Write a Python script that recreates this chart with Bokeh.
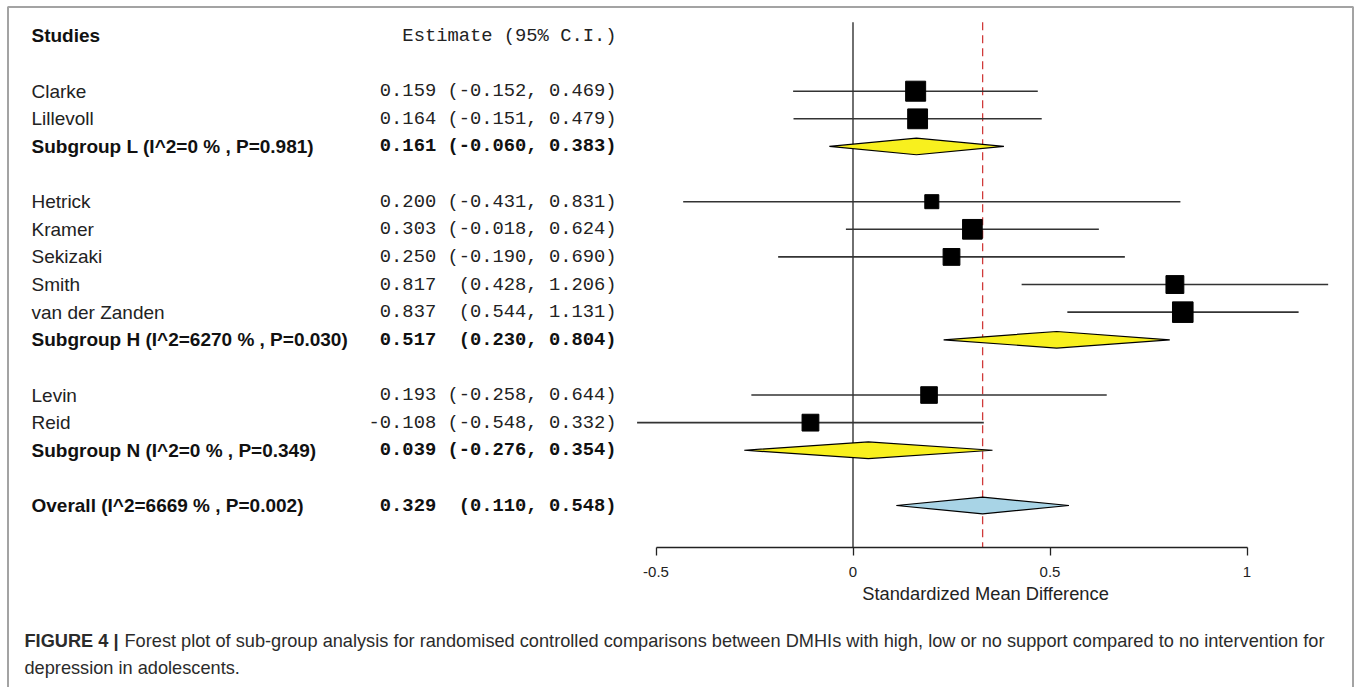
import numpy as np
from bokeh.plotting import figure
from bokeh.models import Range1d, LinearAxis, FixedTicker, ColumnDataSource
from bokeh.core.properties import value
from bokeh.embed import file_html
from bokeh.resources import INLINE

# ---------------- data ----------------
studies = ["Clarke", "Lillevoll", "Hetrick", "Kramer", "Sekizaki", "Smith",
           "van der Zanden", "Levin", "Reid"]
study_group = ["L", "L", "H", "H", "H", "H", "H", "N", "N"]
study_est = [0.159, 0.164, 0.200, 0.303, 0.250, 0.817, 0.837, 0.193, -0.108]
study_lo = [-0.152, -0.151, -0.431, -0.018, -0.190, 0.428, 0.544, -0.258, -0.548]
study_hi = [0.469, 0.479, 0.831, 0.624, 0.690, 1.206, 1.131, 0.644, 0.332]

group_keys = ["L", "H", "N"]
group_labels = ["Subgroup L (I^2=0 % , P=0.981)",
                "Subgroup H (I^2=6270 % , P=0.030)",
                "Subgroup N (I^2=0 % , P=0.349)"]
group_est = [0.161, 0.517, 0.039]
group_lo = [-0.060, 0.230, -0.276]
group_hi = [0.383, 0.804, 0.354]

overall_label = "Overall (I^2=6669 % , P=0.002)"
overall_est = 0.329
overall_lo = 0.110
overall_hi = 0.548

axis_ticks = [-0.5, 0, 0.5, 1]
axis_tick_labels = ["-0.5", "0", "0.5", "1"]
x_title = "Standardized Mean Difference"
header_left = "Studies"
header_right = "Estimate (95% C.I.)"
caption_bold = "FIGURE 4 |"
caption_line1 = ("Forest plot of sub-group analysis for randomised controlled comparisons "
                 "between DMHIs with high, low or no support compared to no intervention for")
caption_line2 = "depression in adolescents."

# ---------------- layout ----------------
W, H = 1357, 687
PX_PER_X = 394.0      # pixels per unit of effect size
X0_PX = 852.5         # pixel of x = 0
ROW_PX = 27.62        # pixels per row
ROW0_PX = 35.46       # pixel of row 0


def fx(px):
    return (px - X0_PX) / PX_PER_X


def fy(py):
    return (py - ROW0_PX) / ROW_PX


NB = "\u00a0"


def fmt(e, lo, hi):
    return f"{e:.3f}{NB}" + f"({lo:.3f},{NB}{hi:.3f})".rjust(15, NB)


# rows
s_rows, g_rows = [], []
r = 2
for g in group_keys:
    for grp in study_group:
        if grp == g:
            s_rows.append(r)
            r += 1
    g_rows.append(r)
    r += 2
o_row = r

se = (np.array(study_hi) - np.array(study_lo)) / 3.92
box = 7.96 / np.sqrt(se)

p = figure(width=W, height=H, output_backend="svg", toolbar_location=None,
           x_range=Range1d(fx(0), fx(W)),
           y_range=Range1d(fy(H), fy(0)),
           x_axis_type=None, y_axis_type=None, min_border=0)
p.outline_line_color = None
p.background_fill_color = "white"
p.border_fill_color = "white"

axis_row = fy(546.7)
top_row = fy(21.7)

# frame border (left, top, right)
bl, br, bt, bb = fx(7.5), fx(1352.5), fy(6.5), fy(720)
p.line(x=[bl, bl, br, br], y=[bb, bt, bt, bb], line_color="#a3a3a3", line_width=2)

# reference lines
p.segment(x0=[0], y0=[top_row], x1=[0], y1=[axis_row], line_color="#222222", line_width=1.3)
p.segment(x0=[overall_est], y0=[top_row], x1=[overall_est], y1=[axis_row],
          line_color="#d03a3a", line_width=1.3, line_dash="8 5")

# study CIs and boxes
ssrc = ColumnDataSource(dict(y=s_rows, est=study_est, lo=study_lo, hi=study_hi, box=box,
                             name=studies,
                             txt=[fmt(e, l, h) for e, l, h in zip(study_est, study_lo, study_hi)]))
p.segment(x0="lo", y0="y", x1="hi", y1="y", source=ssrc, line_color="#333333", line_width=1.6)
p.rect(x="est", y="y", width="box", height="box", width_units="screen", height_units="screen",
       source=ssrc, fill_color="black", line_color="black")

# diamonds
dh = 8.3 / ROW_PX
dx = [[l, e, h, e] for e, l, h in zip(group_est, group_lo, group_hi)]
dy = [[rr, rr - dh, rr, rr + dh] for rr in g_rows]
p.patches(xs=dx, ys=dy, fill_color="#f8f01e", line_color="black", line_width=1.2)
p.patch(x=[overall_lo, overall_est, overall_hi, overall_est],
        y=[o_row, o_row - dh, o_row, o_row + dh],
        fill_color="#a8d4e6", line_color="black", line_width=1.2)

# axis
ax = LinearAxis(fixed_location=axis_row, ticker=FixedTicker(ticks=axis_ticks),
                bounds=(axis_ticks[0], axis_ticks[-1]))
ax.major_label_overrides = {t: l for t, l in zip(axis_ticks, axis_tick_labels)}
ax.axis_line_color = "#222222"
ax.axis_line_width = 1.3
ax.major_tick_line_color = "#222222"
ax.major_tick_line_width = 1.3
ax.major_tick_out = 8
ax.major_tick_in = 0
ax.minor_tick_line_color = None
ax.major_label_text_font = "Liberation Sans"
ax.major_label_text_font_size = "15px"
ax.major_label_text_color = "#222222"
ax.major_label_standoff = 12
p.add_layout(ax, "below")

# texts
LAB_X = fx(31)
EST_X = fx(616)
sans = value("Liberation Sans")
mono = value("Liberation Mono")

p.text(x=[LAB_X], y=[0], text=[header_left], text_font=sans, text_font_size="19px",
       text_font_style="bold", text_baseline="middle", text_align="left", text_color="#111111")
p.text(x=[EST_X], y=[0], text=[header_right.replace(" ", NB)], text_font=mono,
       text_font_size="18.8px", text_baseline="middle", text_align="right", text_color="#222222")

p.text(x=LAB_X, y="y", text="name", source=ssrc, text_font=sans, text_font_size="19px",
       text_baseline="middle", text_align="left", text_color="#222222")
p.text(x=EST_X, y="y", text="txt", source=ssrc, text_font=mono, text_font_size="18.8px",
       text_baseline="middle", text_align="right", text_color="#222222")

b_lab = group_labels + [overall_label]
b_rows = g_rows + [o_row]
b_txt = [fmt(e, l, h) for e, l, h in zip(group_est, group_lo, group_hi)] + \
        [fmt(overall_est, overall_lo, overall_hi)]
p.text(x=[LAB_X] * 4, y=b_rows, text=b_lab, text_font=sans, text_font_size="19px",
       text_font_style="bold", text_baseline="middle", text_align="left", text_color="#111111")
p.text(x=[EST_X] * 4, y=b_rows, text=b_txt, text_font=mono, text_font_size="18.8px",
       text_font_style="bold", text_baseline="middle", text_align="right", text_color="#111111")

# axis title
p.text(x=[fx(985)], y=[fy(593)], text=[x_title], text_font=sans, text_font_size="18.3px",
       text_baseline="middle", text_align="center", text_color="#222222")

# caption
p.text(x=[fx(24)], y=[fy(640)], text=[caption_bold], text_font=sans, text_font_size="18.2px",
       text_font_style="bold", text_baseline="middle", text_align="left", text_color="#2b2b2b")
p.text(x=[fx(124)], y=[fy(640)], text=[caption_line1], text_font=sans, text_font_size="18.2px",
       text_baseline="middle", text_align="left", text_color="#2b2b2b")
p.text(x=[fx(24)], y=[fy(667)], text=[caption_line2], text_font=sans, text_font_size="18.2px",
       text_baseline="middle", text_align="left", text_color="#2b2b2b")

open("out.html", "w").write(file_html(p, INLINE))
